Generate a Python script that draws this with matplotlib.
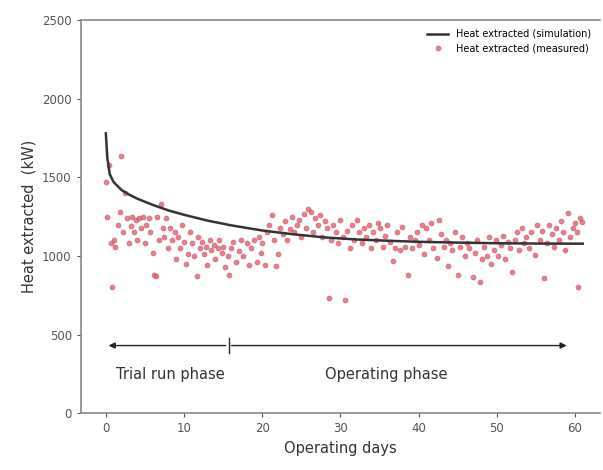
import matplotlib
matplotlib.use("Agg")
import matplotlib.pyplot as plt

# simulated heat extraction curve (kW) vs operating day
sim_days = [0, 0.2, 0.5, 1, 2, 3, 4, 6, 8, 10, 13, 16, 20, 24, 28, 32, 36, 40, 45, 50, 55, 61]
sim_heat = [1780, 1620, 1520, 1470, 1420, 1390, 1365, 1325, 1290, 1262, 1225, 1195, 1162, 1138, 1118, 1105, 1097, 1090, 1085, 1081, 1079, 1078]

# measured heat extraction (kW)
meas_days = [
    0.0, 0.1, 0.4, 0.6, 0.8, 1.0, 1.2, 1.5, 1.8, 2.0, 2.2, 2.5, 2.7, 3.0, 3.2, 3.4, 3.6, 3.8, 4.0, 4.2,
    4.5, 4.7, 5.0, 5.2, 5.5, 5.7, 6.0, 6.2, 6.4, 6.6, 6.8, 7.0, 7.3, 7.5, 7.7, 8.0, 8.2, 8.5, 8.8, 9.0,
    9.2, 9.5, 9.8, 10.0, 10.3, 10.5, 10.8, 11.0, 11.3, 11.6, 11.8, 12.0, 12.3, 12.5, 12.8, 13.0, 13.3, 13.5, 13.8, 14.0,
    14.3, 14.5, 14.8, 15.0, 15.3, 15.6, 15.8, 16.0, 16.3, 16.6, 17.0, 17.3, 17.6, 18.0, 18.3, 18.6, 19.0, 19.3, 19.6, 19.9,
    20.0, 20.3, 20.6, 20.9, 21.2, 21.5, 21.8, 22.0, 22.3, 22.6, 22.9, 23.2, 23.5, 23.8, 24.1, 24.4, 24.7, 25.0, 25.3, 25.6,
    25.9, 26.2, 26.5, 26.8, 27.1, 27.4, 27.7, 28.0, 28.3, 28.5, 28.8, 29.1, 29.4, 29.7, 30.0, 30.3, 30.6, 30.9, 31.2, 31.5,
    31.8, 32.1, 32.4, 32.7, 33.0, 33.3, 33.6, 33.9, 34.2, 34.5, 34.8, 35.1, 35.4, 35.7, 36.0, 36.3, 36.7, 37.0, 37.3, 37.6,
    37.9, 38.2, 38.6, 38.9, 39.2, 39.5, 39.8, 40.1, 40.4, 40.7, 41.0, 41.3, 41.6, 41.9, 42.3, 42.6, 42.9, 43.2, 43.5, 43.7,
    44.0, 44.3, 44.6, 45.0, 45.3, 45.6, 45.9, 46.2, 46.5, 46.9, 47.2, 47.5, 47.8, 48.1, 48.4, 48.7, 49.0, 49.3, 49.6, 49.9,
    50.2, 50.5, 50.8, 51.1, 51.4, 51.7, 52.0, 52.3, 52.6, 52.9, 53.2, 53.5, 53.8, 54.1, 54.4, 54.9, 55.2, 55.5, 55.8, 56.1,
    56.4, 56.7, 57.0, 57.3, 57.6, 57.9, 58.2, 58.5, 58.7, 59.1, 59.4, 59.7, 60.0, 60.2, 60.4, 60.7, 60.9,
]
meas_heat = [
    1470, 1250, 1580, 1080, 800, 1100, 1060, 1200, 1280, 1635, 1150, 1400, 1240, 1080, 1190, 1250, 1150, 1230, 1100, 1240,
    1180, 1250, 1080, 1200, 1240, 1150, 1020, 880, 870, 1250, 1100, 1330, 1180, 1120, 1240, 1050, 1180, 1100, 1150, 980,
    1120, 1050, 1200, 1090, 950, 1010, 1150, 1080, 1000, 870, 1120, 1050, 1090, 1010, 1060, 940, 1100, 1040, 1070, 980,
    1050, 1100, 1020, 1060, 930, 1000, 880, 1050, 1090, 960, 1030, 1100, 1000, 1080, 940, 1050, 1100, 960, 1120, 1020,
    1080, 940, 1150, 1200, 1260, 1100, 935, 1010, 1180, 1140, 1220, 1100, 1170, 1245, 1150, 1200, 1230, 1120, 1270, 1180,
    1300, 1280, 1150, 1240, 1200, 1260, 1120, 1220, 1180, 730, 1100, 1200, 1150, 1080, 1230, 1120, 720, 1160, 1050, 1200,
    1100, 1230, 1150, 1080, 1180, 1120, 1200, 1050, 1150, 1100, 1210, 1180, 1060, 1130, 1200, 1090, 970, 1050, 1150, 1040,
    1185, 1060, 880, 1120, 1050, 1100, 1150, 1070, 1200, 1010, 1180, 1100, 1210, 1050, 990, 1230, 1140, 1060, 1100, 935,
    1080, 1040, 1150, 880, 1060, 1120, 1000, 1080, 1050, 865, 1020, 1100, 833, 980, 1060, 1000, 1120, 950, 1040, 1100,
    1000, 1070, 1130, 980, 1090, 1050, 897, 1100, 1150, 1040, 1180, 1080, 1120, 1050, 1150, 1005, 1200, 1100, 1160, 858,
    1080, 1200, 1140, 1060, 1180, 1100, 1220, 1150, 1037, 1272, 1120, 1180, 1210, 1150, 800, 1240, 1215,
]

fig = plt.figure(figsize=(6.03, 4.70), dpi=100)
ax = fig.add_axes([0.134, 0.121, 0.861, 0.836])

ax.plot(sim_days, sim_heat, color="#333333", lw=1.8, label="Heat extracted (simulation)", zorder=3)
ax.plot(meas_days, meas_heat, ls="none", marker="o", ms=3.5, color="#ec4a5c",
        mec="#b5606c", mew=0.6, alpha=0.72, label="Heat extracted (measured)", zorder=2)

# phase arrow
ax.annotate("", xy=(0, 430), xytext=(15.7, 430),
            arrowprops=dict(arrowstyle="-|>", color="#222222", lw=1.0, mutation_scale=9))
ax.annotate("", xy=(59.3, 430), xytext=(15.7, 430),
            arrowprops=dict(arrowstyle="-|>", color="#222222", lw=1.0, mutation_scale=9))
ax.plot([15.7, 15.7], [385, 475], color="#222222", lw=1.0)
ax.text(1.3, 245, "Trial run phase", fontsize=10.5, color="#333333", va="center")
ax.text(28.0, 245, "Operating phase", fontsize=10.5, color="#333333", va="center")

ax.set_xlim(-3.2, 63.2)
ax.set_ylim(0, 2500)
ax.set_xticks([0, 10, 20, 30, 40, 50, 60])
ax.set_yticks([0, 500, 1000, 1500, 2000, 2500])
ax.tick_params(labelsize=8.5, colors="#555555", length=3)
for s in ax.spines.values():
    s.set_color("#888888")
    s.set_linewidth(1.2)
ax.spines["right"].set_visible(False)

ax.set_xlabel("Operating days", fontsize=10.5, color="#333333")
ax.set_ylabel("Heat extracted  (kW)", fontsize=10.5, color="#333333")
ax.legend(loc="upper right", frameon=False, fontsize=7, handlelength=2.2)

fig.savefig("out.png", dpi=100)
